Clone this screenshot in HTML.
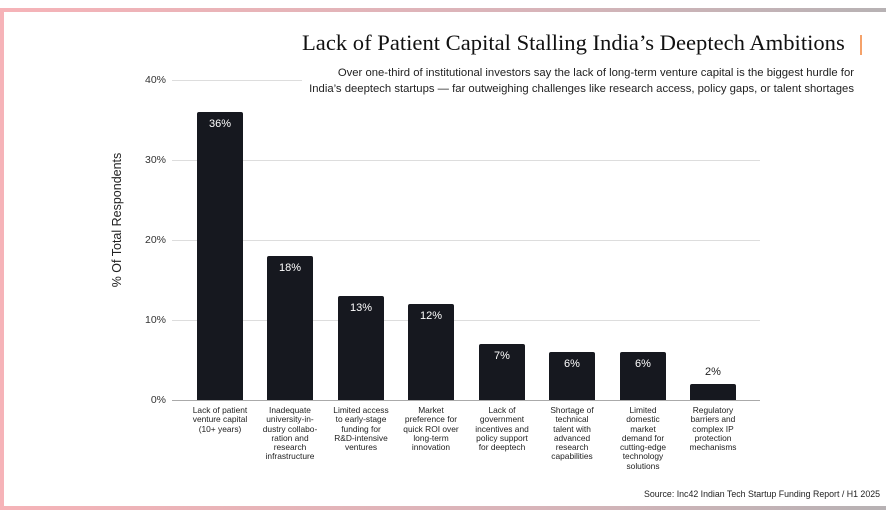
<!DOCTYPE html>
<html><head><meta charset="utf-8"><style>
body{margin:0;width:886px;height:518px;background:#fff;overflow:hidden;position:relative;font-family:"Liberation Sans",sans-serif}
.bt,.bb{position:absolute;left:0;width:886px;height:4px;background:linear-gradient(90deg,#f6b3b8,#d8b4b9 60%,#b7b2b4)}
.bl{position:absolute;left:0;top:8px;width:4px;height:502px;background:#f6b3b8}
.t{position:absolute;white-space:nowrap}
.bar{position:absolute;background:#16181f;border-radius:2px 2px 0 0;width:46px}
.bv{position:absolute;width:46px;text-align:center;font-size:11px;color:#fff}
.lab{position:absolute;width:72px;text-align:center;font-size:8.4px;line-height:9.3px;color:#222;top:406px}
.g{position:absolute;left:172px;width:588px;height:1px;background:#ddd}
.yl{position:absolute;right:720px;font-size:10.5px;color:#333}
</style></head><body>
<div class="bt" style="top:8px"></div><div class="bb" style="top:506px"></div><div class="bl"></div>
<div class="t" style="left:302px;top:30px;font-family:'Liberation Serif',serif;font-size:22.6px;color:#111">Lack of Patient Capital Stalling India’s Deeptech Ambitions</div>
<div style="position:absolute;left:860px;top:35px;width:2px;height:20px;background:#f5a26a"></div>
<div class="t" style="right:32px;top:65px;font-size:11.3px;color:#222;text-align:right;line-height:16px">Over one-third of institutional investors say the lack of long-term venture capital is the biggest hurdle for<br>India’s deeptech startups — far outweighing challenges like research access, policy gaps, or talent shortages</div>
<div class="g" style="top:80px;width:130px"></div>
<div class="g" style="top:160px"></div><div class="g" style="top:240px"></div><div class="g" style="top:320px"></div>
<div class="g" style="top:400px;background:#aaa"></div>
<div class="yl" style="top:74px">40%</div><div class="yl" style="top:154px">30%</div><div class="yl" style="top:234px">20%</div><div class="yl" style="top:314px">10%</div><div class="yl" style="top:394px">0%</div>
<div class="t" style="left:117px;top:220px;transform:translate(-50%,-50%) rotate(-90deg);font-size:12.5px;color:#222">% Of Total Respondents</div>
<div class="bar" style="left:197px;top:112px;height:288px"></div><div class="bv" style="left:197px;top:118px">36%</div>
<div class="bar" style="left:267px;top:256px;height:144px"></div><div class="bv" style="left:267px;top:262px">18%</div>
<div class="bar" style="left:338px;top:296px;height:104px"></div><div class="bv" style="left:338px;top:302px">13%</div>
<div class="bar" style="left:408px;top:304px;height:96px"></div><div class="bv" style="left:408px;top:310px">12%</div>
<div class="bar" style="left:479px;top:344px;height:56px"></div><div class="bv" style="left:479px;top:350px">7%</div>
<div class="bar" style="left:549px;top:352px;height:48px"></div><div class="bv" style="left:549px;top:358px">6%</div>
<div class="bar" style="left:620px;top:352px;height:48px"></div><div class="bv" style="left:620px;top:358px">6%</div>
<div class="bar" style="left:690px;top:384px;height:16px"></div><div class="bv" style="left:690px;top:366px;color:#222">2%</div>
<div class="lab" style="left:184px">Lack of patient<br>venture capital<br>(10+ years)</div>
<div class="lab" style="left:254px">Inadequate<br>university-in-<br>dustry collabo-<br>ration and<br>research<br>infrastructure</div>
<div class="lab" style="left:325px">Limited access<br>to early-stage<br>funding for<br>R&amp;D-intensive<br>ventures</div>
<div class="lab" style="left:395px">Market<br>preference for<br>quick ROI over<br>long-term<br>innovation</div>
<div class="lab" style="left:466px">Lack of<br>government<br>incentives and<br>policy support<br>for deeptech</div>
<div class="lab" style="left:536px">Shortage of<br>technical<br>talent with<br>advanced<br>research<br>capabilities</div>
<div class="lab" style="left:607px">Limited<br>domestic<br>market<br>demand for<br>cutting-edge<br>technology<br>solutions</div>
<div class="lab" style="left:677px">Regulatory<br>barriers and<br>complex IP<br>protection<br>mechanisms</div>
<div class="t" style="right:6px;top:489px;font-size:8.8px;color:#222">Source: Inc42 Indian Tech Startup Funding Report / H1 2025</div>
</body></html>
